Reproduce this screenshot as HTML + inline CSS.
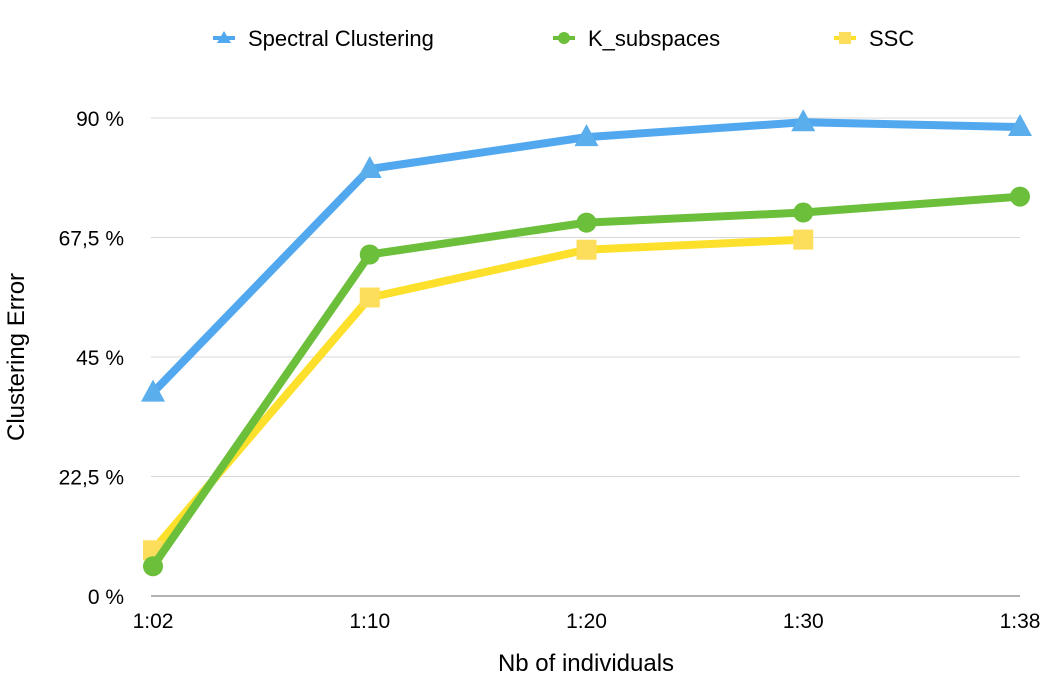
<!DOCTYPE html>
<html><head><meta charset="utf-8"><style>
body{margin:0;background:#fff;}
svg{display:block;font-family:"Liberation Sans",sans-serif;}
</style></head><body>
<svg id="chart" width="1064" height="696" viewBox="0 0 1064 696">
<g id="grid"></g><g id="series"></g><g id="labels"></g>
<g font-size="22" fill="#000">
 <g>
  <line x1="213" y1="38" x2="235" y2="38" stroke="#52a8ef" stroke-width="4"/><polygon points="224,31 231,43 217,43" fill="#52a8ef"/>
  <text x="248" y="46">Spectral Clustering</text></g>
 <g>
  <line x1="553" y1="38" x2="575" y2="38" stroke="#6bbf3a" stroke-width="4"/><circle cx="564" cy="38" r="6" fill="#6bbf3a"/>
  <text x="588" y="46">K_subspaces</text></g>
 <g>
  <line x1="834" y1="38" x2="856" y2="38" stroke="#fde02b" stroke-width="4"/><rect x="839" y="32" width="12" height="12" fill="#fddd5c"/>
  <text x="869" y="46">SSC</text></g>
</g>
<text transform="translate(24,357) rotate(-90)" text-anchor="middle" font-size="24">Clustering Error</text>
<text x="586" y="671" text-anchor="middle" font-size="24">Nb of individuals</text>
</svg>
<script>
const categories=["1:02","1:10","1:20","1:30","1:38"];
const yTicks=[0,22.5,45,67.5,90];
const yTickLabels=["0 %","22,5 %","45 %","67,5 %","90 %"];
const spectral=[38.3,80.4,86.4,89.2,88.3];
const ksub=[5.6,64.3,70.3,72.2,75.2];
const ssc=[8.6,56.2,65.2,67.1,null];
const NS="http://www.w3.org/2000/svg";
const x=i=>153+i*(1020-153)/(categories.length-1);
const y=v=>596-v*(596-118)/90;
function mk(t,a,p){const e=document.createElementNS(NS,t);for(const k in a)e.setAttribute(k,a[k]);p.appendChild(e);return e;}
const grid=document.getElementById('grid'),lab=document.getElementById('labels'),ser=document.getElementById('series');
yTicks.forEach((v,i)=>{
 const l=mk('line',{x1:151,x2:1020,y1:y(v),y2:y(v),stroke:i==0?'#666':'#d8d8d8','stroke-width':1},grid);
 
 
 const t=mk('text',{x:124,y:y(v)+8,'text-anchor':'end','font-size':21},lab);t.textContent=yTickLabels[i];
 
 
});
categories.forEach((c,i)=>{
 const t=mk('text',{x:x(i),y:628,'text-anchor':'middle','font-size':21},lab);t.textContent=c;
 
 
});
function draw(vals,color,mcolor,shape,name){
 const pts=vals.map((v,i)=>v==null?null:[x(i),y(v)]).filter(p=>p);
 const pl=mk('polyline',{points:pts.map(p=>p.join(',')).join(' '),fill:'none',stroke:color,'stroke-width':8,'stroke-linejoin':'round'},ser);
 
 
 pts.forEach(([px,py])=>{
  let m;
  if(shape=='tri')m=mk('polygon',{points:`${px},${py-13} ${px+12},${py+9} ${px-12},${py+9}`,fill:mcolor},ser);
  else if(shape=='circ')m=mk('circle',{cx:px,cy:py,r:10,fill:mcolor},ser);
  else m=mk('rect',{x:px-10,y:py-10,width:20,height:20,fill:mcolor},ser);
  
  
 });
}
draw(ssc,'#fde02b','#fddd5c','sq','ssc');
draw(ksub,'#6bbf3a','#6bbf3a','circ','k-subspaces');
draw(spectral,'#52a8ef','#5aaeec','tri','spectral');
</script>
</body></html>
